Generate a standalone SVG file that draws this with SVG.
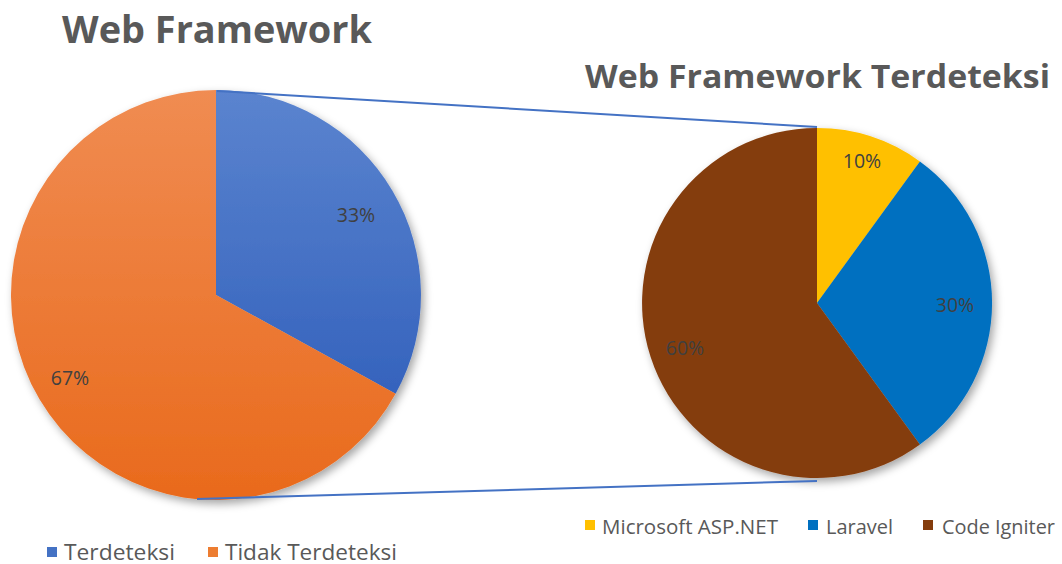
<svg xmlns="http://www.w3.org/2000/svg" width="1062" height="564" viewBox="0 0 1062 564">
<style>
.title{font-family:"Open Sans","Noto Sans",sans-serif;font-weight:bold;fill:#595959}
.lbl{font-family:"Open Sans","Noto Sans",sans-serif;font-size:19.5px;fill:#404040}
.leg{font-family:"Open Sans","Noto Sans",sans-serif;fill:#595959}
.conn{stroke:#4472C4;stroke-width:2;fill:none}
</style>
<defs>
<linearGradient id="gBlue" x1="0" y1="0" x2="0" y2="1"><stop offset="0" stop-color="#5b84cf"/><stop offset="1" stop-color="#3563bd"/></linearGradient>
<linearGradient id="gOrange" x1="0" y1="0" x2="0" y2="1"><stop offset="0" stop-color="#f08c52"/><stop offset="1" stop-color="#e96a1c"/></linearGradient>
<filter id="sh" x="-20%" y="-20%" width="140%" height="140%"><feDropShadow dx="3" dy="4" stdDeviation="4" flood-color="#000" flood-opacity="0.35"/></filter>
</defs>
<rect width="1062" height="564" fill="#fff"/>
<text class="title" x="62" y="43" font-size="37" textLength="310" lengthAdjust="spacingAndGlyphs">Web Framework</text>
<text class="title" x="585" y="88" font-size="32" textLength="465" lengthAdjust="spacingAndGlyphs">Web Framework Terdeteksi</text>
<g id="pie-left" filter="url(#sh)">
<path d="M216,295 L216,90 A205,205 0 0 1 395.6,393.8 Z" fill="url(#gBlue)"/>
<path d="M216,295 L395.6,393.8 A205,205 0 1 1 216,90 Z" fill="url(#gOrange)"/>
</g>
<g id="pie-right" filter="url(#sh)">
<path d="M817,303 L817,128 A175,175 0 0 1 919.9,161.4 Z" fill="#FFC000"/>
<path d="M817,303 L919.9,161.4 A175,175 0 0 1 919.9,444.6 Z" fill="#0070C0"/>
<path d="M817,303 L919.9,444.6 A175,175 0 1 1 817,128 Z" fill="#843C0C"/>
</g>
<g id="labels">
<text class="lbl" x="356" y="222" text-anchor="middle">33%</text>
<text class="lbl" x="70" y="385" text-anchor="middle">67%</text>
<text class="lbl" x="862" y="168" text-anchor="middle">10%</text>
<text class="lbl" x="955" y="312" text-anchor="middle">30%</text>
<text class="lbl" x="685" y="355" text-anchor="middle">60%</text>
</g>
<g id="connectors">
<line class="conn" x1="217" y1="91" x2="817" y2="127"/>
<line class="conn" x1="197" y1="499" x2="817" y2="481"/>
</g>
<g id="legend-left">
<rect x="47" y="547" width="10" height="10" fill="#4472C4"/>
<text class="leg" x="64" y="560" font-size="21" textLength="111" lengthAdjust="spacingAndGlyphs">Terdeteksi</text>
<rect x="208" y="547" width="10" height="10" fill="#ED7D31"/>
<text class="leg" x="225" y="560" font-size="21" textLength="172" lengthAdjust="spacingAndGlyphs">Tidak Terdeteksi</text>
</g>
<g id="legend-right">
<rect x="585" y="520" width="10" height="10" fill="#FFC000"/>
<text class="leg" x="602" y="534" font-size="20" textLength="176" lengthAdjust="spacingAndGlyphs">Microsoft ASP.NET</text>
<rect x="808" y="520" width="10" height="10" fill="#0070C0"/>
<text class="leg" x="826" y="534" font-size="20" textLength="67" lengthAdjust="spacingAndGlyphs">Laravel</text>
<rect x="923" y="520" width="10" height="10" fill="#843C0C"/>
<text class="leg" x="942" y="534" font-size="20" textLength="113" lengthAdjust="spacingAndGlyphs">Code Igniter</text>
</g>
</svg>
